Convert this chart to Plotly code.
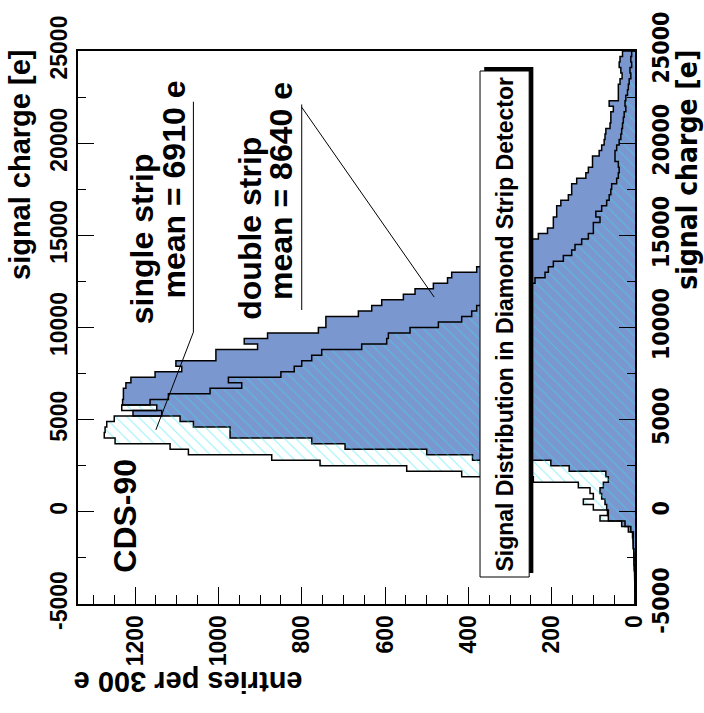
import numpy as np
import plotly.graph_objects as go

# Histogram binning: 300 e per bin from -5000 e to 25000 e
BIN_WIDTH = 300
CHARGE_MIN = -5000
CHARGE_MAX = 25000
edges = np.arange(CHARGE_MIN, CHARGE_MAX + BIN_WIDTH, BIN_WIDTH)

# entries per bin, single-strip clusters (mean 6910 e)
single_strip = [
    0, 1, 0, 1, 1, 1, 2, 2, 3, 3,
    4, 5, 6, 10, 24, 84, 64, 100, 124, 100,
    108, 136, 244, 416, 548, 756, 872, 1072, 1116, 1248,
    1274, 1272, 1268, 1250, 1136, 1232, 1164, 1120, 1020, 944,
    976, 850, 818, 800, 776, 752, 656, 596, 592, 540,
    472, 416, 392, 380, 360, 330, 300, 270, 240, 216,
    208, 196, 172, 152, 144, 128, 112, 100, 100, 84,
    94, 80, 68, 62, 58, 56, 44, 40, 38, 40,
    48, 48, 44, 38, 34, 32, 30, 28, 26, 22,
    24, 22, 18, 16, 14, 10, 12, 8, 10, 8,
]

# entries per bin, double-strip clusters (mean 8640 e)
double_strip = [
    0, 0, 1, 0, 1, 1, 1, 2, 2, 3,
    4, 4, 4, 16, 32, 64, 66, 68, 72, 80,
    84, 76, 64, 70, 158, 202, 390, 500, 696, 776,
    972, 972, 1060, 1092, 1205, 1148, 1230, 1228, 1228, 1222,
    1210, 1152, 1088, 1102, 1006, 1006, 906, 938, 882, 760,
    742, 742, 664, 632, 608, 556, 528, 484, 450, 440,
    380, 352, 330, 300, 276, 250, 232, 210, 196, 196,
    188, 188, 178, 160, 152, 152, 140, 118, 112, 102,
    102, 86, 80, 74, 72, 70, 60, 58, 58, 52,
    62, 40, 40, 40, 36, 31, 34, 38, 36, 30,
]

charge_ticks = [-5000, 0, 5000, 10000, 15000, 20000, 25000]
charge_labels = ["-5000", "0", "5000", "10000", "15000", "20000", "25000"]
entry_ticks = [0, 200, 400, 600, 800, 1000, 1200]
entry_labels = ["0", "200", "400", "600", "800", "1000", "1200"]
ENTRIES_MAX = 1337

FONT = "Liberation Sans, Arial, Helvetica, sans-serif"
NARROW = "Liberation Sans Narrow, DejaVu Sans Condensed, Liberation Sans, sans-serif"
BLUE = "#7b97cf"
CYAN = "#2fe3f2"


def step_outline(counts):
    """Closed step path of a histogram lying on its side (counts along x)."""
    xs, ys = [0], [edges[0]]
    for i, c in enumerate(counts):
        xs += [c, c]
        ys += [edges[i], edges[i + 1]]
    xs.append(0)
    ys.append(edges[-1])
    return xs, ys


fig = go.Figure()

dx, dy = step_outline(double_strip)
fig.add_trace(go.Scatter(
    x=dx, y=dy, mode="lines", fill="toself", fillcolor=BLUE,
    line=dict(color="black", width=1.5), hoverinfo="skip", showlegend=False,
))

sx, sy = step_outline(single_strip)
fig.add_trace(go.Scatter(
    x=sx, y=sy, mode="lines", fill="toself", fillcolor="rgba(0,0,0,0)",
    fillpattern=dict(shape="\\", fgcolor=CYAN, bgcolor="rgba(0,0,0,0)",
                     size=8, solidity=0.14),
    line=dict(color="black", width=1.5), hoverinfo="skip", showlegend=False,
))

# mirrored charge axis on the right-hand side, labels only
fig.add_trace(go.Scatter(x=[None], y=[None], yaxis="y2", showlegend=False))

# pointer lines from the labels to the two distributions
pointer_lines = [
    ((1060, 22250), (1060, 9750)),
    ((1060, 9750), (1150, 4450)),
    ((800, 22100), (800, 10950)),
    ((800, 21950), (482, 11650)),
]
for (x0, y0), (x1, y1) in pointer_lines:
    fig.add_shape(type="line", x0=x0, y0=y0, x1=x1, y1=y1, xref="x", yref="y",
                  line=dict(color="black", width=1))

# title box with drop shadow
box_x = (372, 254)
box_y = (-3535, 23915)
fig.add_shape(type="rect", x0=box_x[0] - 10, x1=box_x[1] - 10,
              y0=box_y[0] + 220, y1=box_y[1] + 220, xref="x", yref="y",
              fillcolor="black", line=dict(width=0))
fig.add_shape(type="rect", x0=box_x[0], x1=box_x[1], y0=box_y[0], y1=box_y[1],
              xref="x", yref="y", fillcolor="white",
              line=dict(color="black", width=1))

big = dict(family=FONT, size=32, color="black", weight="bold")
texts = [
    ("Signal Distribution in Diamond Strip Detector", 313, 10190,
     dict(family=FONT, size=23, color="black", weight="bold")),
    ("CDS-90", 1225, -230, big),
    ("single strip", 1183, 14800, big),
    ("mean = 6910 e", 1106, 17500, big),
    ("double strip", 926, 15370, big),
    ("mean = 8640 e", 850, 17400, big),
]
for txt, xv, yv, fnt in texts:
    fig.add_annotation(text=txt, x=xv, y=yv, xref="x", yref="y",
                       textangle=-90, showarrow=False, font=fnt,
                       xanchor="center", yanchor="middle")

title_font = dict(family=FONT, size=29, color="black", weight="bold")
fig.add_annotation(text="signal charge [e]", xref="paper", yref="paper",
                   x=-0.104, y=0.794, textangle=-90, showarrow=False,
                   font=title_font, xanchor="center", yanchor="middle")
fig.add_annotation(text="signal charge [e]", xref="paper", yref="paper",
                   x=1.095, y=0.785, textangle=-90, showarrow=False,
                   font=dict(family=NARROW, size=28, color="black", weight="bold"),
                   xanchor="center", yanchor="middle")
fig.add_annotation(text="entries per 300 e", xref="paper", yref="paper",
                   x=0.198, y=-0.142, textangle=180, showarrow=False,
                   font=title_font, xanchor="center", yanchor="middle")

tick_font = dict(family=FONT, size=23, color="black", weight="bold")
fig.update_layout(
    width=704, height=713,
    margin=dict(l=78, r=69, t=51, b=109),
    paper_bgcolor="white", plot_bgcolor="white",
    xaxis=dict(
        range=[ENTRIES_MAX, 0], tickvals=entry_ticks, ticktext=entry_labels,
        tickangle=-90, tickfont=tick_font, ticks="inside", ticklen=17,
        tickwidth=1, tickcolor="black",
        minor=dict(dtick=50, ticks="inside", ticklen=9, tickcolor="black"),
        showline=True, linecolor="black", linewidth=2, mirror=True,
        showgrid=False, zeroline=False,
    ),
    yaxis=dict(
        range=[CHARGE_MIN, CHARGE_MAX], tickvals=charge_ticks,
        ticktext=charge_labels, tickangle=-90, tickfont=tick_font,
        ticks="inside", ticklen=16, tickwidth=1, tickcolor="black",
        minor=dict(dtick=2500, ticks="inside", ticklen=8, tickcolor="black"),
        showline=True, linecolor="black", linewidth=2, mirror="ticks",
        showgrid=False, zeroline=False,
    ),
    yaxis2=dict(
        range=[CHARGE_MIN, CHARGE_MAX], overlaying="y", side="right",
        tickvals=charge_ticks, ticktext=charge_labels, tickangle=-90,
        tickfont=dict(family=NARROW, size=23, color="black", weight="bold"),
        ticks="", showline=False, showgrid=False, zeroline=False,
        ticklabelstandoff=10,
    ),
)

fig.write_html("out.html")
